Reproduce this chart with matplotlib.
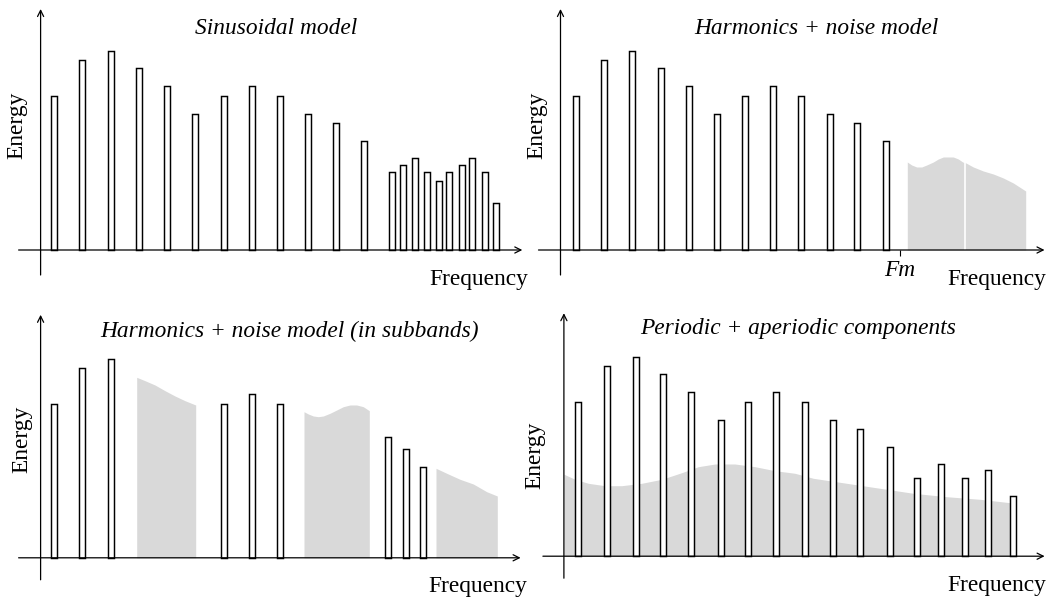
import matplotlib.pyplot as plt

W, H, DPI = 1049, 597, 100

# Harmonic amplitudes (same envelope in every spectrum), in pixels above the axis
harm_heights = [154, 190, 199, 182, 164, 136, 154, 164, 154, 136, 127, 109]

# Sinusoidal model
sin_freqs = [13.5, 41.6, 70.3, 98, 126.4, 154.8, 183.2, 211.3, 239.3, 267.4,
             295.8, 323.8, 350.9, 362.7, 373.9, 386, 398.2, 408.4, 421.2,
             431.7, 444.2, 455.7]
sin_heights = harm_heights + [78, 85, 92, 78, 69, 78, 85, 92, 78, 47]

# Harmonics + noise model
hn_freqs = [15.8, 43.5, 71.8, 100.5, 128.2, 156.2, 184.9, 212.5, 240.5,
            269.2, 296.9, 325.2]
hn_heights = harm_heights
hn_fm = 339.5
hn_noise_f = [346.8, 351.2, 356.2, 361.2, 366.2, 372.8, 377.8, 382.8, 387.8,
              392.8, 397.8, 402.2, 405.5, 412.8, 422.8, 432.8, 442.8, 452.8,
              465.2]
hn_noise_e = [88, 85, 83, 83, 85, 88, 91, 93, 93, 93, 91, 88, 87, 83, 79, 76,
              72, 67, 59]
hn_noise_split = 404.5

# Harmonics + noise model (in subbands)
sb_freqs = [13.5, 41.5, 70.3, 183.2, 211.3, 239.3, 347.2, 365.4, 382.7]
sb_heights = [154, 190, 199, 154, 164, 154, 121, 109, 91]
sb_band1_f = [96.1, 104.4, 114.4, 124.4, 134.4, 144.4, 155.1]
sb_band1_e = [180.5, 177.1, 172.8, 167.1, 161.8, 157.1, 152.8]
sb_band2_f = [263.4, 267.7, 272.7, 277.7, 282.7, 289.4, 296.1, 302.7, 309.4,
              316.1, 322.7, 328.7]
sb_band2_e = [146.1, 143.8, 141.8, 141.1, 141.8, 144.5, 147.8, 151.1, 152.8,
              152.8, 151.1, 147.1]
sb_band3_f = [395.4, 406.1, 419.4, 432.7, 446.1, 456.7]
sb_band3_e = [89.5, 84.5, 78.5, 73.8, 66.1, 61.8]

# Periodic + aperiodic components
pa_freqs = [14.5, 42.8, 71.8, 99.5, 127.5, 156.8, 184.5, 211.8, 241.2, 268.9,
            296.1, 325.9, 353.2, 377.1, 401.4, 424.4, 448.7]
pa_heights = harm_heights + [78, 92, 78, 86, 60]
pa_noise_f = [0, 11.1, 24.4, 41.1, 57.8, 77.8, 97.8, 117.8, 134.4, 151.1,
              171.1, 191.1, 211.1, 231.1, 249.4, 282.8, 316.1, 349.4, 382.8,
              416.1, 446.1]
pa_noise_e = [82, 76.9, 72.9, 70.5, 70.5, 72.9, 76.9, 83.5, 89.5, 92.2, 92.2,
              89.5, 85.5, 82.9, 77.9, 72.9, 67.9, 62.9, 59.5, 56.9, 53.5]

GRAY = '#d9d9d9'
FONT = ['Liberation Serif', 'DejaVu Serif']
FS = 16.8
BAR_W = 6

plt.rcParams['font.family'] = FONT


def make_panel(fig, box, origin):
    """Axes over a pixel box whose data units are pixels from the origin."""
    x0, y0, x1, y1 = box
    ox, oy = origin
    ax = fig.add_axes([x0 / W, 1 - y1 / H, (x1 - x0) / W, (y1 - y0) / H])
    ax.set_xlim(x0 - ox, x1 - ox)
    ax.set_ylim(oy - y1, oy - y0)
    ax.patch.set_visible(False)
    for s in ax.spines.values():
        s.set_visible(False)
    ax.set_xticks([])
    ax.set_yticks([])
    return ax


def draw_axes(ax, xlim, ylim):
    arrow = dict(arrowstyle='->', lw=0.9, color='black', shrinkA=0,
                 shrinkB=0, mutation_scale=11)
    ax.annotate('', xy=(xlim[1], 0), xytext=(xlim[0], 0), arrowprops=arrow,
                annotation_clip=False, zorder=5)
    ax.annotate('', xy=(0, ylim[1]), xytext=(0, ylim[0]), arrowprops=arrow,
                annotation_clip=False, zorder=5)


def draw_labels(ax, title, title_pos, energy_pos, freq_pos):
    ax.text(*title_pos, title, style='italic', fontsize=FS, ha='center',
            va='center', clip_on=False)
    ax.text(*energy_pos, 'Energy', rotation=90, fontsize=FS, ha='center',
            va='center', clip_on=False)
    ax.text(*freq_pos, 'Frequency', fontsize=FS, ha='center', va='center',
            clip_on=False)


def draw_bars(ax, freqs, heights):
    ax.bar(freqs, heights, width=BAR_W, bottom=0, facecolor='white',
           edgecolor='black', linewidth=1.05, zorder=3)


fig = plt.figure(figsize=(W / DPI, H / DPI), dpi=DPI)

# Top left: sinusoidal model
ax1 = make_panel(fig, (0, 0, 525, 297), (40.6, 250))
draw_axes(ax1, (-22, 481.7), (-25, 241))
draw_bars(ax1, sin_freqs, sin_heights)
draw_labels(ax1, 'Sinusoidal model', (236, 222), (-23.7, 125),
            (437.8, -29.5))

# Top right: harmonics + noise model
ax2 = make_panel(fig, (525, 0, 1049, 297), (560.5, 250))
draw_axes(ax2, (-22, 484), (-25, 241))
ax2.fill_between(hn_noise_f, 0, hn_noise_e, color=GRAY, linewidth=0,
                 zorder=1)
ax2.vlines(hn_noise_split, 0, max(hn_noise_e), color='white', linewidth=1.2,
           zorder=2)
draw_bars(ax2, hn_freqs, hn_heights)
draw_labels(ax2, 'Harmonics + noise model', (255.5, 222), (-23.6, 125),
            (436.5, -30))
ax2.spines['bottom'].set_position(('data', 0))
ax2.set_xticks([hn_fm], ['Fm'])
ax2.tick_params(axis='x', direction='out', length=4, width=0.8, pad=3,
                labelsize=FS)
for lab in ax2.get_xticklabels():
    lab.set_style('italic')

# Bottom left: harmonics + noise model in subbands
ax3 = make_panel(fig, (0, 297, 525, 597), (40.6, 557.8))
draw_axes(ax3, (-22, 480), (-22, 243))
for bf, be in [(sb_band1_f, sb_band1_e), (sb_band2_f, sb_band2_e),
               (sb_band3_f, sb_band3_e)]:
    ax3.fill_between(bf, 0, be, color=GRAY, linewidth=0, zorder=1)
draw_bars(ax3, sb_freqs, sb_heights)
draw_labels(ax3, 'Harmonics + noise model (in subbands)', (249.3, 226),
            (-18.6, 118.5), (437.4, -28.5))

# Bottom right: periodic + aperiodic components
ax4 = make_panel(fig, (525, 297, 1049, 597), (563.9, 556.2))
draw_axes(ax4, (-21, 480.7), (-22, 243))
ax4.fill_between(pa_noise_f, 0, pa_noise_e, color=GRAY, linewidth=0,
                 zorder=1)
draw_bars(ax4, pa_freqs, pa_heights)
draw_labels(ax4, 'Periodic + aperiodic components', (234.1, 227.4),
            (-28.7, 101), (433.1, -29.8))

fig.savefig('out.png', dpi=DPI)
